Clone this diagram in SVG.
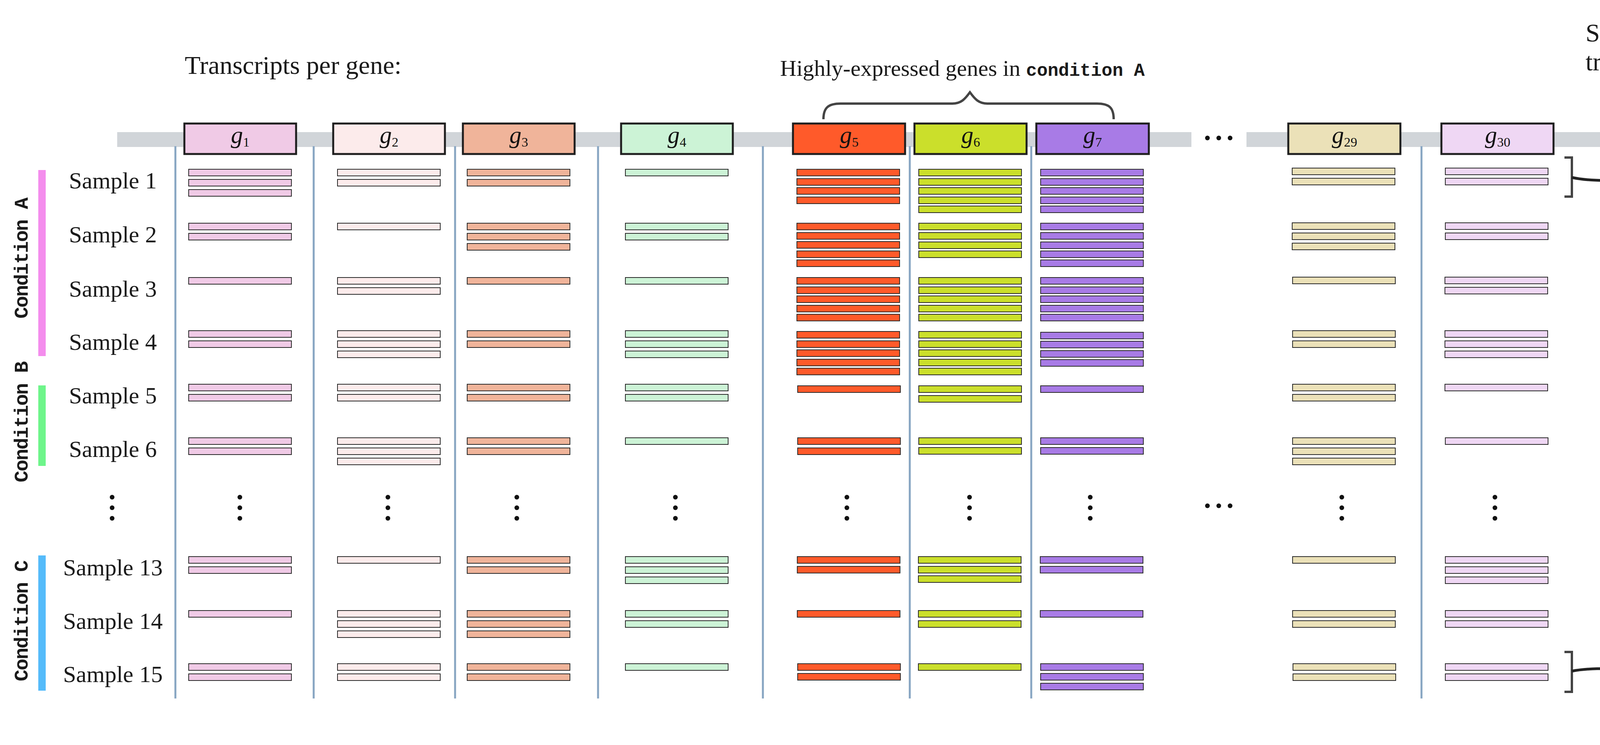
<svg xmlns="http://www.w3.org/2000/svg" width="5431" height="1906" viewBox="0 0 5431 1906">
<style>
.t{font-family:"Liberation Serif","Times New Roman",serif;fill:#1a1a1a}
.h{font-size:66px}
.s{font-size:60px;text-anchor:middle}
.m{font-family:"Liberation Mono","Courier New",monospace;font-weight:bold}
.cond{font-family:"Liberation Mono","Courier New",monospace;font-weight:bold;font-size:50px;letter-spacing:-2px;text-anchor:middle;fill:#1a1a1a}
.gl{font-family:"Liberation Serif","Times New Roman",serif;text-anchor:middle;fill:#111}
.gi{font-style:italic;font-size:62px}
.gs{font-size:34px}
.box{stroke:#1e1e1e;stroke-width:5}
.col{stroke:#87a5c2;stroke-width:5}
.dot{fill:#111}
.gdot{fill:#777}
.c1{fill:#f0cae6}.c2{fill:#fcebeb}.c3{fill:#f0b49a}.c4{fill:#ccf3d6}.c5{fill:#ff5a2a}.c6{fill:#cbdf2b}.c7{fill:#a87be6}.c29{fill:#ebe1b8}.c30{fill:#efd7f4}.c30r{fill:#e6caee}
.rd{stroke:#ffffff;stroke-opacity:0.55;stroke-width:1.5}
.tb{stroke:#2a2a2a;stroke-width:2}
.br{fill:none;stroke:#444;stroke-width:6}
.con{fill:none;stroke:#222;stroke-width:7}
</style>
<defs>
<rect id="b" width="263" height="17" stroke="#2a2a2a" stroke-width="2"/>
<rect id="r" width="66" height="18"/>
<marker id="ah" viewBox="0 0 34 32" refX="26" refY="16" markerWidth="34" markerHeight="32" markerUnits="userSpaceOnUse" orient="auto"><path d="M0,0 L34,16 L0,32 z" fill="#222"/></marker>
</defs>
<rect width="5431" height="1906" fill="#ffffff"/>

<g id="headings">
<text class="t h" x="473" y="189">Transcripts per gene:</text>
<text class="t" x="1997" y="194" style="font-size:58px">Highly-expressed genes in <tspan class="m" style="font-size:46px">condition A</tspan></text>
<text class="t h" x="4059" y="106">Sequence each</text>
<text class="t h" x="4059" y="180">transcript in sample:</text>
<text class="t h" x="4703" y="106">Pool of reads for all gene</text>
<text class="t h" x="4703" y="180">transcripts per sample:</text>
</g>

<g id="brace">
<path class="br" d="M2108,305 C2108,276 2120,265 2152,265 L2438,265 C2460,265 2470,254 2483,236 C2496,254 2506,265 2528,265 L2808,265 C2840,265 2851,276 2851,305"/>
</g>

<g id="gene-axis">
<rect x="300" y="338" width="2750" height="38" fill="#d1d5d9"/>
<rect x="3191" y="338" width="955" height="38" fill="#d1d5d9"/>
<circle class="dot" cx="3091" cy="353" r="6"/><circle class="dot" cx="3120" cy="353" r="6"/><circle class="dot" cx="3149" cy="353" r="6"/>
</g>

<g id="column-lines">
<line class="col" x1="449" y1="374" x2="449" y2="1787"/>
<line class="col" x1="803" y1="374" x2="803" y2="1787"/>
<line class="col" x1="1165" y1="374" x2="1165" y2="1787"/>
<line class="col" x1="1531" y1="374" x2="1531" y2="1787"/>
<line class="col" x1="1953" y1="374" x2="1953" y2="1787"/>
<line class="col" x1="2329" y1="374" x2="2329" y2="1787"/>
<line class="col" x1="2640" y1="374" x2="2640" y2="1787"/>
<line class="col" x1="3639" y1="374" x2="3639" y2="1787"/>
</g>

<g id="conditions">
<rect x="98" y="435" width="19" height="476" fill="#f48ded"/>
<rect x="98" y="986" width="19" height="206" fill="#6ef58a"/>
<rect x="98" y="1421" width="19" height="346" fill="#55bbfa"/>
<text class="cond" transform="translate(71,661) rotate(-90)">Condition A</text>
<text class="cond" transform="translate(71,1080) rotate(-90)">Condition B</text>
<text class="cond" transform="translate(71,1589) rotate(-90)">Condition C</text>
</g>

<g id="samples">
<text class="t s" x="289" y="482">Sample 1</text>
<text class="t s" x="289" y="620">Sample 2</text>
<text class="t s" x="289" y="759">Sample 3</text>
<text class="t s" x="289" y="895">Sample 4</text>
<text class="t s" x="289" y="1032">Sample 5</text>
<text class="t s" x="289" y="1169">Sample 6</text>
<circle class="dot" cx="287" cy="1272" r="6"/><circle class="dot" cx="287" cy="1299" r="6"/><circle class="dot" cx="287" cy="1326" r="6"/>
<text class="t s" x="289" y="1472">Sample 13</text>
<text class="t s" x="289" y="1609">Sample 14</text>
<text class="t s" x="289" y="1745">Sample 15</text>
</g>

<g id="g1">
<rect class="box c1" x="472" y="316" width="286" height="78"/>
<text class="gl" x="615" y="366"><tspan class="gi">g</tspan><tspan class="gs" dy="9">1</tspan></text>
<g class="c1">
<use href="#b" x="483" y="433"/><use href="#b" x="483" y="459"/><use href="#b" x="483" y="485"/>
<use href="#b" x="483" y="571"/><use href="#b" x="483" y="597"/>
<use href="#b" x="483" y="710"/>
<use href="#b" x="483" y="846"/><use href="#b" x="483" y="872"/>
<use href="#b" x="483" y="983"/><use href="#b" x="483" y="1009"/>
<use href="#b" x="483" y="1120"/><use href="#b" x="483" y="1146"/>
<use href="#b" x="483" y="1424"/><use href="#b" x="483" y="1450"/>
<use href="#b" x="483" y="1562"/>
<use href="#b" x="483" y="1698"/><use href="#b" x="483" y="1724"/>
</g>
<circle class="dot" cx="614" cy="1272" r="6"/><circle class="dot" cx="614" cy="1299" r="6"/><circle class="dot" cx="614" cy="1326" r="6"/>
</g>

<g id="g2">
<rect class="box c2" x="853" y="316" width="286" height="78"/>
<text class="gl" x="996" y="366"><tspan class="gi">g</tspan><tspan class="gs" dy="9">2</tspan></text>
<g class="c2">
<use href="#b" x="864" y="433"/><use href="#b" x="864" y="459"/>
<use href="#b" x="864" y="571"/>
<use href="#b" x="864" y="710"/><use href="#b" x="864" y="736"/>
<use href="#b" x="864" y="846"/><use href="#b" x="864" y="872"/><use href="#b" x="864" y="898"/>
<use href="#b" x="864" y="983"/><use href="#b" x="864" y="1009"/>
<use href="#b" x="864" y="1120"/><use href="#b" x="864" y="1146"/><use href="#b" x="864" y="1172"/>
<use href="#b" x="864" y="1424"/>
<use href="#b" x="864" y="1562"/><use href="#b" x="864" y="1588"/><use href="#b" x="864" y="1614"/>
<use href="#b" x="864" y="1698"/><use href="#b" x="864" y="1724"/>
</g>
<circle class="dot" cx="993" cy="1272" r="6"/><circle class="dot" cx="993" cy="1299" r="6"/><circle class="dot" cx="993" cy="1326" r="6"/>
</g>

<g id="g3">
<rect class="box c3" x="1185" y="316" width="286" height="78"/>
<text class="gl" x="1328" y="366"><tspan class="gi">g</tspan><tspan class="gs" dy="9">3</tspan></text>
<g class="c3">
<use href="#b" x="1196" y="433"/><use href="#b" x="1196" y="459"/>
<use href="#b" x="1196" y="571"/><use href="#b" x="1196" y="597"/><use href="#b" x="1196" y="623"/>
<use href="#b" x="1196" y="710"/>
<use href="#b" x="1196" y="846"/><use href="#b" x="1196" y="872"/>
<use href="#b" x="1196" y="983"/><use href="#b" x="1196" y="1009"/>
<use href="#b" x="1196" y="1120"/><use href="#b" x="1196" y="1146"/>
<use href="#b" x="1196" y="1424"/><use href="#b" x="1196" y="1450"/>
<use href="#b" x="1196" y="1562"/><use href="#b" x="1196" y="1588"/><use href="#b" x="1196" y="1614"/>
<use href="#b" x="1196" y="1698"/><use href="#b" x="1196" y="1724"/>
</g>
<circle class="dot" cx="1323" cy="1272" r="6"/><circle class="dot" cx="1323" cy="1299" r="6"/><circle class="dot" cx="1323" cy="1326" r="6"/>
</g>

<g id="g4">
<rect class="box c4" x="1590" y="316" width="286" height="78"/>
<text class="gl" x="1733" y="366"><tspan class="gi">g</tspan><tspan class="gs" dy="9">4</tspan></text>
<g class="c4">
<use href="#b" x="1601" y="433"/>
<use href="#b" x="1601" y="571"/><use href="#b" x="1601" y="597"/>
<use href="#b" x="1601" y="710"/>
<use href="#b" x="1601" y="846"/><use href="#b" x="1601" y="872"/><use href="#b" x="1601" y="898"/>
<use href="#b" x="1601" y="983"/><use href="#b" x="1601" y="1009"/>
<use href="#b" x="1601" y="1120"/>
<use href="#b" x="1601" y="1424"/><use href="#b" x="1601" y="1450"/><use href="#b" x="1601" y="1476"/>
<use href="#b" x="1601" y="1562"/><use href="#b" x="1601" y="1588"/>
<use href="#b" x="1601" y="1698"/>
</g>
<circle class="dot" cx="1729" cy="1272" r="6"/><circle class="dot" cx="1729" cy="1299" r="6"/><circle class="dot" cx="1729" cy="1326" r="6"/>
</g>

<g id="g5">
<rect class="box c5" x="2030" y="316" width="287" height="78"/>
<text class="gl" x="2174" y="366"><tspan class="gi">g</tspan><tspan class="gs" dy="9">5</tspan></text>
<g class="c5">
<use href="#b" x="2040" y="433"/><use href="#b" x="2040" y="457"/><use href="#b" x="2040" y="480"/><use href="#b" x="2040" y="504"/>
<use href="#b" x="2040" y="571"/><use href="#b" x="2040" y="595"/><use href="#b" x="2040" y="618"/><use href="#b" x="2040" y="642"/><use href="#b" x="2040" y="665"/>
<use href="#b" x="2040" y="710"/><use href="#b" x="2040" y="734"/><use href="#b" x="2040" y="757"/><use href="#b" x="2040" y="781"/><use href="#b" x="2040" y="804"/>
<use href="#b" x="2040" y="848"/><use href="#b" x="2040" y="872"/><use href="#b" x="2040" y="895"/><use href="#b" x="2040" y="919"/><use href="#b" x="2040" y="942"/>
<use href="#b" x="2042" y="987"/>
<use href="#b" x="2042" y="1120"/><use href="#b" x="2042" y="1146"/>
<use href="#b" x="2041" y="1424"/><use href="#b" x="2041" y="1449"/>
<use href="#b" x="2041" y="1562"/>
<use href="#b" x="2042" y="1698"/><use href="#b" x="2042" y="1723"/>
</g>
<circle class="dot" cx="2168" cy="1272" r="6"/><circle class="dot" cx="2168" cy="1299" r="6"/><circle class="dot" cx="2168" cy="1326" r="6"/>
</g>

<g id="g6">
<rect class="box c6" x="2341" y="316" width="287" height="78"/>
<text class="gl" x="2485" y="366"><tspan class="gi">g</tspan><tspan class="gs" dy="9">6</tspan></text>
<g class="c6">
<use href="#b" x="2352" y="433"/><use href="#b" x="2352" y="457"/><use href="#b" x="2352" y="480"/><use href="#b" x="2352" y="504"/><use href="#b" x="2352" y="527"/>
<use href="#b" x="2352" y="571"/><use href="#b" x="2352" y="595"/><use href="#b" x="2352" y="619"/><use href="#b" x="2352" y="642"/>
<use href="#b" x="2352" y="710"/><use href="#b" x="2352" y="734"/><use href="#b" x="2352" y="757"/><use href="#b" x="2352" y="781"/><use href="#b" x="2352" y="804"/>
<use href="#b" x="2352" y="848"/><use href="#b" x="2352" y="872"/><use href="#b" x="2352" y="895"/><use href="#b" x="2352" y="919"/><use href="#b" x="2352" y="942"/>
<use href="#b" x="2352" y="987"/><use href="#b" x="2352" y="1012"/>
<use href="#b" x="2352" y="1120"/><use href="#b" x="2352" y="1145"/>
<use href="#b" x="2351" y="1424"/><use href="#b" x="2351" y="1449"/><use href="#b" x="2351" y="1473"/>
<use href="#b" x="2351" y="1562"/><use href="#b" x="2351" y="1588"/>
<use href="#b" x="2351" y="1698"/>
</g>
<circle class="dot" cx="2482" cy="1272" r="6"/><circle class="dot" cx="2482" cy="1299" r="6"/><circle class="dot" cx="2482" cy="1326" r="6"/>
</g>

<g id="g7">
<rect class="box c7" x="2653" y="316" width="288" height="78"/>
<text class="gl" x="2797" y="366"><tspan class="gi">g</tspan><tspan class="gs" dy="9">7</tspan></text>
<g class="c7">
<use href="#b" x="2664" y="433"/><use href="#b" x="2664" y="457"/><use href="#b" x="2664" y="480"/><use href="#b" x="2664" y="504"/><use href="#b" x="2664" y="527"/>
<use href="#b" x="2664" y="571"/><use href="#b" x="2664" y="595"/><use href="#b" x="2664" y="619"/><use href="#b" x="2664" y="642"/><use href="#b" x="2664" y="665"/>
<use href="#b" x="2664" y="710"/><use href="#b" x="2664" y="734"/><use href="#b" x="2664" y="757"/><use href="#b" x="2664" y="781"/><use href="#b" x="2664" y="804"/>
<use href="#b" x="2664" y="850"/><use href="#b" x="2664" y="873"/><use href="#b" x="2664" y="897"/><use href="#b" x="2664" y="920"/>
<use href="#b" x="2664" y="987"/>
<use href="#b" x="2664" y="1120"/><use href="#b" x="2664" y="1145"/>
<use href="#b" x="2663" y="1424"/><use href="#b" x="2663" y="1449"/>
<use href="#b" x="2663" y="1562"/>
<use href="#b" x="2664" y="1698"/><use href="#b" x="2664" y="1723"/><use href="#b" x="2664" y="1748"/>
</g>
<circle class="dot" cx="2791" cy="1272" r="6"/><circle class="dot" cx="2791" cy="1299" r="6"/><circle class="dot" cx="2791" cy="1326" r="6"/>
</g>

<g id="gene-ellipsis">
<circle class="dot" cx="3091" cy="1294" r="6"/><circle class="dot" cx="3120" cy="1294" r="6"/><circle class="dot" cx="3149" cy="1294" r="6"/>
</g>

<g id="g29">
<rect class="box c29" x="3298" y="316" width="287" height="78"/>
<text class="gl" x="3442" y="366"><tspan class="gi">g</tspan><tspan class="gs" dy="9">29</tspan></text>
<g class="c29">
<use href="#b" x="3308" y="430"/><use href="#b" x="3308" y="456"/>
<use href="#b" x="3308" y="570"/><use href="#b" x="3308" y="596"/><use href="#b" x="3308" y="622"/>
<use href="#b" x="3309" y="709"/>
<use href="#b" x="3309" y="846"/><use href="#b" x="3309" y="872"/>
<use href="#b" x="3309" y="983"/><use href="#b" x="3309" y="1009"/>
<use href="#b" x="3309" y="1120"/><use href="#b" x="3309" y="1146"/><use href="#b" x="3309" y="1172"/>
<use href="#b" x="3309" y="1424"/>
<use href="#b" x="3309" y="1562"/><use href="#b" x="3309" y="1588"/>
<use href="#b" x="3310" y="1698"/><use href="#b" x="3310" y="1724"/>
</g>
<circle class="dot" cx="3435" cy="1272" r="6"/><circle class="dot" cx="3435" cy="1299" r="6"/><circle class="dot" cx="3435" cy="1326" r="6"/>
</g>

<g id="g30">
<rect class="box c30" x="3690" y="316" width="287" height="78"/>
<text class="gl" x="3834" y="366"><tspan class="gi">g</tspan><tspan class="gs" dy="9">30</tspan></text>
<g class="c30">
<use href="#b" x="3700" y="430"/><use href="#b" x="3700" y="456"/>
<use href="#b" x="3700" y="570"/><use href="#b" x="3700" y="596"/>
<use href="#b" x="3699" y="709"/><use href="#b" x="3699" y="735"/>
<use href="#b" x="3699" y="846"/><use href="#b" x="3699" y="872"/><use href="#b" x="3699" y="898"/>
<use href="#b" x="3699" y="983"/>
<use href="#b" x="3700" y="1120"/>
<use href="#b" x="3700" y="1424"/><use href="#b" x="3700" y="1450"/><use href="#b" x="3700" y="1476"/>
<use href="#b" x="3700" y="1562"/><use href="#b" x="3700" y="1588"/>
<use href="#b" x="3700" y="1698"/><use href="#b" x="3700" y="1724"/>
</g>
<circle class="dot" cx="3827" cy="1272" r="6"/><circle class="dot" cx="3827" cy="1299" r="6"/><circle class="dot" cx="3827" cy="1326" r="6"/>
</g>

<g id="seq-top">
<g class="c1"><use href="#r" x="4274" y="291"/><use href="#r" x="4406" y="291"/><use href="#r" x="4253" y="313"/><use href="#r" x="4340" y="313"/><use href="#r" x="4240" y="335"/><use href="#r" x="4366" y="335"/><use href="#r" x="4439" y="335"/></g>
<rect class="c1 tb" x="4241" y="368" width="263" height="18"/>
<g class="c6"><use href="#r" x="4326" y="412"/><use href="#r" x="4439" y="412"/><use href="#r" x="4280" y="435"/><use href="#r" x="4403" y="433"/><use href="#r" x="4246" y="457"/><use href="#r" x="4326" y="459"/><use href="#r" x="4444" y="457"/></g>
<rect class="c6 tb" x="4246" y="489" width="263" height="18"/>
<circle class="gdot" cx="4381" cy="545" r="4.5"/><circle class="gdot" cx="4381" cy="565" r="4.5"/><circle class="gdot" cx="4381" cy="585" r="4.5"/>
<g class="c30r"><use href="#r" x="4385" y="620"/><use href="#r" x="4258" y="644"/><use href="#r" x="4355" y="642"/><use href="#r" x="4428" y="639"/><use href="#r" x="4246" y="667"/><use href="#r" x="4347" y="666"/><use href="#r" x="4444" y="663"/></g>
<rect class="c30 tb" x="4246" y="696" width="263" height="18"/>
</g>

<g id="pool-top">
<g class="c7 rd"><use href="#r" x="4829" y="302"/><use href="#r" x="4872" y="308"/><use href="#r" x="4942" y="302"/><use href="#r" x="4824" y="325"/><use href="#r" x="4903" y="325"/><use href="#r" x="5025" y="331"/><use href="#r" x="4924" y="351"/><use href="#r" x="4787" y="368"/><use href="#r" x="4876" y="368"/><use href="#r" x="4999" y="374"/><use href="#r" x="4858" y="386"/><use href="#r" x="4927" y="388"/><use href="#r" x="4762" y="403"/><use href="#r" x="4942" y="409"/><use href="#r" x="4787" y="439"/><use href="#r" x="4762" y="457"/></g>
<g class="c29 rd"><use href="#r" x="5091" y="280"/><use href="#r" x="5185" y="280"/><use href="#r" x="5025" y="294"/><use href="#r" x="5139" y="302"/><use href="#r" x="5050" y="312"/><use href="#r" x="5155" y="328"/></g>
<g class="c5 rd"><use href="#r" x="5218" y="311"/><use href="#r" x="5008" y="351"/><use href="#r" x="5090" y="351"/><use href="#r" x="5214" y="361"/><use href="#r" x="5073" y="371"/><use href="#r" x="5159" y="377"/><use href="#r" x="5253" y="384"/><use href="#r" x="5102" y="403"/><use href="#r" x="5153" y="412"/><use href="#r" x="5240" y="404"/><use href="#r" x="5070" y="431"/><use href="#r" x="5185" y="431"/><use href="#r" x="5196" y="461"/><use href="#r" x="5120" y="476"/><use href="#r" x="5224" y="493"/></g>
<g class="c1 rd"><use href="#r" x="5025" y="409"/><use href="#r" x="4853" y="421"/><use href="#r" x="4924" y="437"/><use href="#r" x="5028" y="452"/><use href="#r" x="4858" y="455"/><use href="#r" x="4920" y="463"/><use href="#r" x="4829" y="472"/><use href="#r" x="4987" y="476"/><use href="#r" x="4920" y="494"/></g>
<g class="c2 rd"><use href="#r" x="4762" y="490"/><use href="#r" x="4739" y="511"/><use href="#r" x="4829" y="511"/><use href="#r" x="4874" y="520"/><use href="#r" x="4793" y="540"/><use href="#r" x="4838" y="555"/></g>
<g class="c3 rd"><use href="#r" x="4930" y="540"/><use href="#r" x="4987" y="555"/><use href="#r" x="4904" y="573"/><use href="#r" x="4970" y="590"/><use href="#r" x="5052" y="590"/><use href="#r" x="5036" y="608"/></g>
<g class="c4 rd"><use href="#r" x="4831" y="573"/><use href="#r" x="4809" y="595"/><use href="#r" x="4855" y="617"/></g>
<g class="c6 rd"><use href="#r" x="5052" y="511"/><use href="#r" x="5153" y="505"/><use href="#r" x="5246" y="511"/><use href="#r" x="5219" y="529"/><use href="#r" x="5219" y="537"/><use href="#r" x="5064" y="537"/><use href="#r" x="5118" y="555"/><use href="#r" x="5219" y="560"/><use href="#r" x="5153" y="578"/><use href="#r" x="5180" y="606"/><use href="#r" x="5016" y="635"/><use href="#r" x="5086" y="635"/><use href="#r" x="5151" y="629"/><use href="#r" x="5220" y="632"/><use href="#r" x="5036" y="653"/><use href="#r" x="5114" y="655"/></g>
<g class="c30 rd"><use href="#r" x="4897" y="595"/><use href="#r" x="4947" y="633"/><use href="#r" x="4831" y="640"/><use href="#r" x="4920" y="656"/><use href="#r" x="4970" y="672"/><use href="#r" x="4818" y="675"/></g>
</g>

<g id="middle-ellipsis">
<circle class="dot" cx="4399" cy="1052" r="6"/><circle class="dot" cx="4399" cy="1084" r="6"/><circle class="dot" cx="4399" cy="1115" r="6"/>
<circle class="dot" cx="5016" cy="1052" r="6"/><circle class="dot" cx="5016" cy="1084" r="6"/><circle class="dot" cx="5016" cy="1115" r="6"/>
</g>

<g id="seq-bottom">
<g class="c1"><use href="#r" x="4288" y="1430"/><use href="#r" x="4430" y="1429"/><use href="#r" x="4238" y="1451"/><use href="#r" x="4340" y="1451"/><use href="#r" x="4262" y="1472"/><use href="#r" x="4345" y="1472"/><use href="#r" x="4420" y="1472"/></g>
<rect class="c1 tb" x="4242" y="1505" width="262" height="18"/>
<g class="c6"><use href="#r" x="4291" y="1543"/><use href="#r" x="4431" y="1543"/><use href="#r" x="4280" y="1565"/><use href="#r" x="4424" y="1563"/><use href="#r" x="4246" y="1586"/><use href="#r" x="4369" y="1589"/><use href="#r" x="4445" y="1586"/></g>
<rect class="c6 tb" x="4246" y="1619" width="264" height="18"/>
<circle class="gdot" cx="4382" cy="1679" r="4.5"/><circle class="gdot" cx="4382" cy="1699" r="4.5"/><circle class="gdot" cx="4382" cy="1719" r="4.5"/>
<g class="c30r"><use href="#r" x="4350" y="1754"/><use href="#r" x="4256" y="1776"/><use href="#r" x="4329" y="1772"/><use href="#r" x="4419" y="1774"/><use href="#r" x="4246" y="1802"/><use href="#r" x="4318" y="1800"/><use href="#r" x="4445" y="1797"/></g>
<rect class="c30 tb" x="4246" y="1830" width="264" height="18"/>
</g>

<g id="pool-bottom">
<g class="c7 rd"><use href="#r" x="4906" y="1444"/><use href="#r" x="4834" y="1455"/><use href="#r" x="4796" y="1471"/><use href="#r" x="4826" y="1492"/><use href="#r" x="4887" y="1514"/><use href="#r" x="4816" y="1525"/><use href="#r" x="4893" y="1543"/><use href="#r" x="4805" y="1548"/><use href="#r" x="4784" y="1566"/></g>
<g class="c29 rd"><use href="#r" x="4917" y="1469"/><use href="#r" x="4984" y="1477"/><use href="#r" x="4907" y="1489"/><use href="#r" x="4997" y="1492"/><use href="#r" x="5006" y="1512"/><use href="#r" x="4973" y="1534"/></g>
<g class="c5 rd"><use href="#r" x="5077" y="1499"/><use href="#r" x="5097" y="1516"/><use href="#r" x="5074" y="1542"/><use href="#r" x="5116" y="1566"/><use href="#r" x="5091" y="1592"/><use href="#r" x="5060" y="1612"/></g>
<g class="c1 rd"><use href="#r" x="4997" y="1558"/><use href="#r" x="4893" y="1570"/><use href="#r" x="5020" y="1585"/><use href="#r" x="4927" y="1593"/><use href="#r" x="4978" y="1609"/><use href="#r" x="4958" y="1626"/></g>
<g class="c2 rd"><use href="#r" x="4820" y="1587"/><use href="#r" x="4886" y="1610"/><use href="#r" x="4830" y="1628"/><use href="#r" x="4804" y="1647"/><use href="#r" x="4908" y="1646"/><use href="#r" x="4850" y="1662"/></g>
<g class="c3 rd"><use href="#r" x="4990" y="1657"/><use href="#r" x="4962" y="1675"/><use href="#r" x="4886" y="1686"/><use href="#r" x="5005" y="1695"/><use href="#r" x="4936" y="1708"/><use href="#r" x="5028" y="1720"/></g>
<g class="c4 rd"><use href="#r" x="4800" y="1676"/><use href="#r" x="4824" y="1706"/><use href="#r" x="4792" y="1720"/></g>
<g class="c6 rd"><use href="#r" x="5058" y="1645"/><use href="#r" x="5104" y="1668"/><use href="#r" x="5086" y="1693"/></g>
<g class="c30 rd"><use href="#r" x="4889" y="1728"/><use href="#r" x="4953" y="1750"/><use href="#r" x="4836" y="1758"/><use href="#r" x="4926" y="1772"/><use href="#r" x="4847" y="1782"/><use href="#r" x="4975" y="1789"/></g>
</g>

<g id="connectors">
<path class="br" d="M4005,403 L4024,403 L4024,503 L4005,503"/>
<path class="con" d="M4024,454 C4065,463 4110,462 4188,462" marker-end="url(#ah)"/>
<path class="con" d="M4559,503 L4708,503" marker-end="url(#ah)"/>
<path class="br" d="M4005,1668 L4024,1668 L4024,1770 L4005,1770"/>
<path class="con" d="M4024,1717 C4065,1709 4110,1710 4187,1711" marker-end="url(#ah)"/>
<path class="con" d="M4547,1636 L4707,1636" marker-end="url(#ah)"/>
</g>
</svg>
